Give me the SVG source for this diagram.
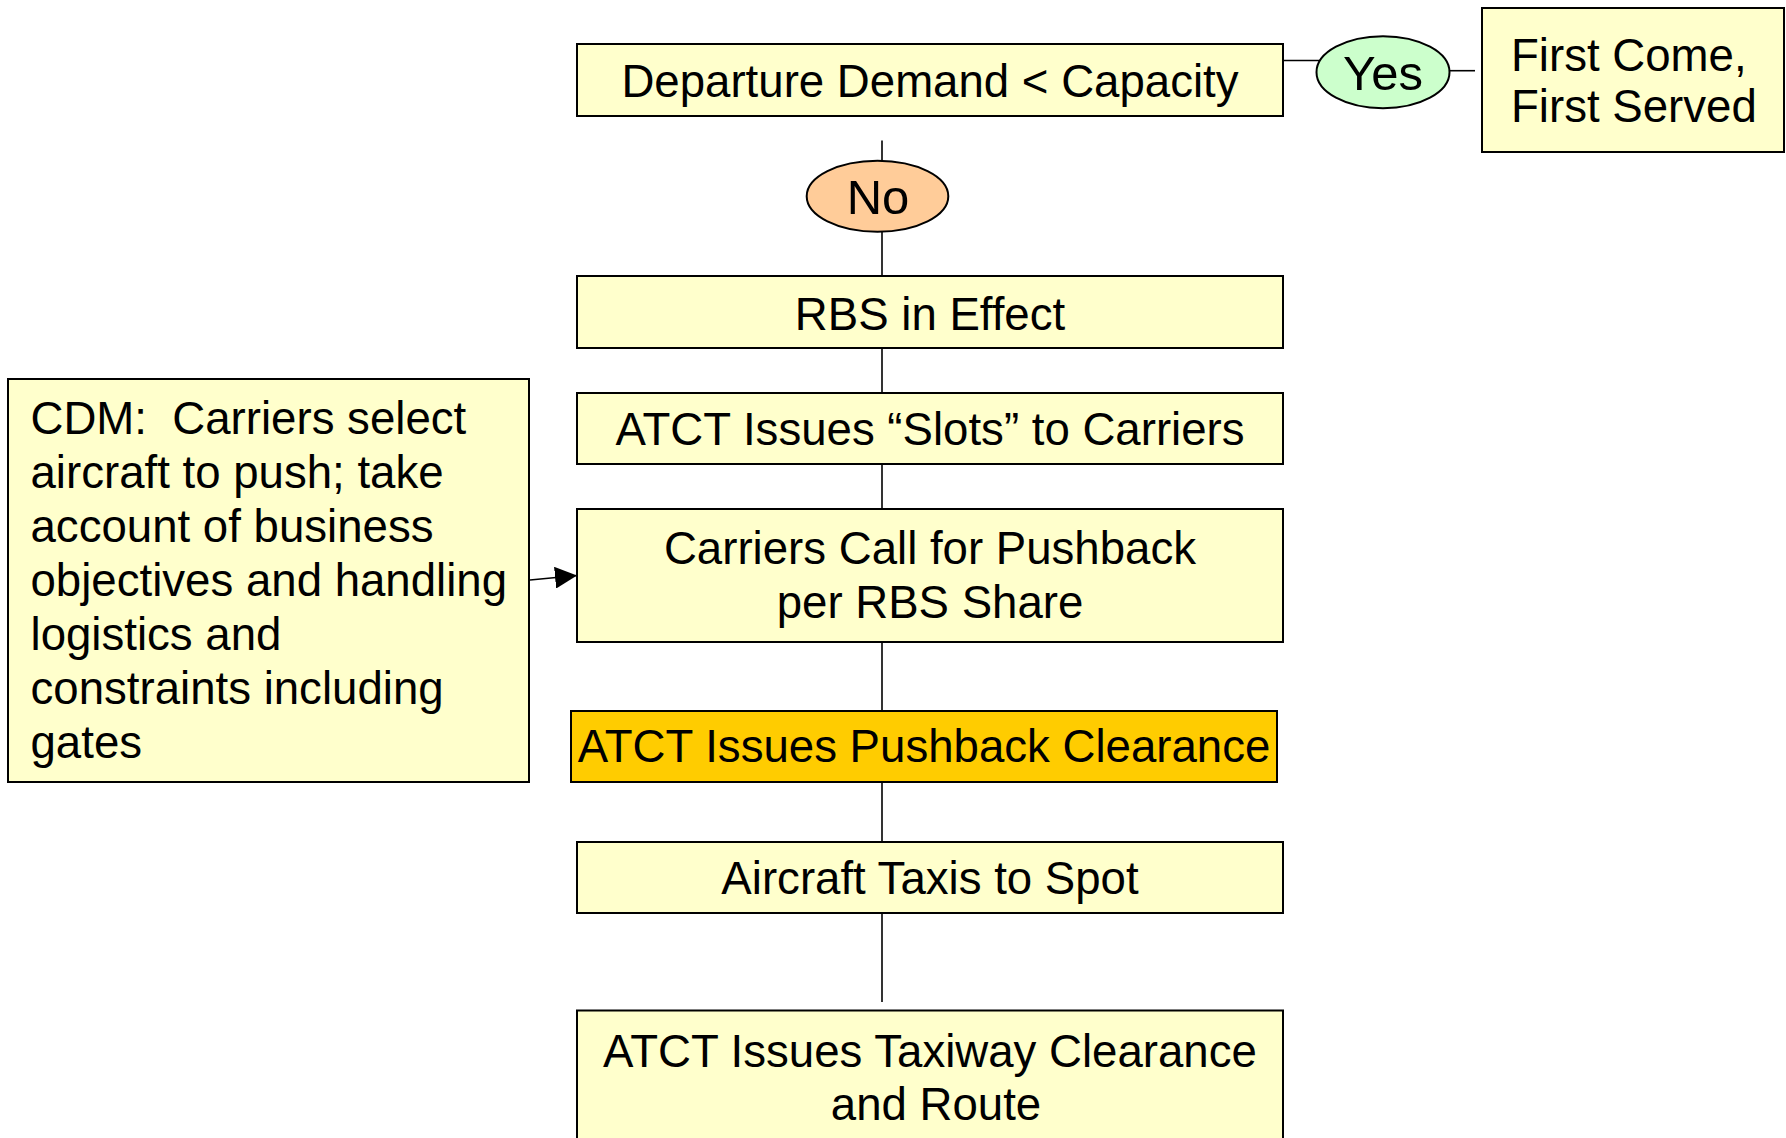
<svg xmlns="http://www.w3.org/2000/svg" width="1786" height="1138" viewBox="0 0 1786 1138">
  <style>
    .box { fill: #FFFFCC; stroke: #000; stroke-width: 2; }
    .hot { fill: #FFCC00; stroke: #000; stroke-width: 2; }
    .yes { fill: #CCFFCC; stroke: #000; stroke-width: 2; }
    .no  { fill: #FFCC99; stroke: #000; stroke-width: 2; }
    .lbl { font-family: "Liberation Sans", Arial, sans-serif; font-size: 45.6px; fill: #000; }
    .mid { text-anchor: middle; }
    .big { font-size: 49px; }
    .wire { stroke: #000; stroke-width: 1.6; fill: none; }
  </style>
  <defs>
    <marker id="tip" markerUnits="userSpaceOnUse" markerWidth="22" markerHeight="22" viewBox="0 0 20 20" refX="20" refY="10" orient="auto">
      <path d="M0,0 L20,10 L0,20 Z" fill="#000"/>
    </marker>
  </defs>

  <!-- connectors -->
  <g id="connectors">
    <line class="wire" x1="1283" y1="60.5" x2="1320" y2="60.5"/>
    <line class="wire" x1="1449.5" y1="70.7" x2="1475" y2="70.7"/>
    <line class="wire" x1="882" y1="140.5" x2="882" y2="161"/>
    <line class="wire" x1="882" y1="231.5" x2="882" y2="276"/>
    <line class="wire" x1="882" y1="348" x2="882" y2="393"/>
    <line class="wire" x1="882" y1="464" x2="882" y2="509"/>
    <line class="wire" x1="882" y1="642" x2="882" y2="711"/>
    <line class="wire" x1="882" y1="782" x2="882" y2="842"/>
    <line class="wire" x1="882" y1="913" x2="882" y2="1002"/>
    <line class="wire" x1="530" y1="580" x2="577" y2="575.5" marker-end="url(#tip)"/>
  </g>

  <g id="demand">
    <rect class="box" x="577" y="44" width="706" height="72"/>
    <text class="lbl mid" x="930" y="97">Departure Demand &lt; Capacity</text>
  </g>

  <g id="yes">
    <ellipse class="yes" cx="1383" cy="72.2" rx="66.5" ry="36"/>
    <text class="lbl mid big" x="1383" y="90">Yes</text>
  </g>

  <g id="fcfs">
    <rect class="box" x="1482" y="8" width="302" height="144"/>
    <text class="lbl" x="1511" y="71">First Come,</text>
    <text class="lbl" x="1511" y="122">First Served</text>
  </g>

  <g id="no">
    <ellipse class="no" cx="877.5" cy="196.2" rx="70.8" ry="35.5"/>
    <text class="lbl mid big" x="878" y="214">No</text>
  </g>

  <g id="rbs">
    <rect class="box" x="577" y="276" width="706" height="72"/>
    <text class="lbl mid" x="930" y="329.5">RBS in Effect</text>
  </g>

  <g id="slots">
    <rect class="box" x="577" y="393" width="706" height="71"/>
    <text class="lbl mid" x="930" y="445">ATCT Issues “Slots” to Carriers</text>
  </g>

  <g id="carriers-call">
    <rect class="box" x="577" y="509" width="706" height="133"/>
    <text class="lbl mid" x="930" y="564">Carriers Call for Pushback</text>
    <text class="lbl mid" x="930" y="618">per RBS Share</text>
  </g>

  <g id="cdm">
    <rect class="box" x="8" y="379" width="521" height="403"/>
    <text class="lbl" x="30.5" y="434" xml:space="preserve">CDM:  Carriers select</text>
    <text class="lbl" x="30.5" y="488">aircraft to push; take</text>
    <text class="lbl" x="30.5" y="542">account of business</text>
    <text class="lbl" x="30.5" y="596">objectives and handling</text>
    <text class="lbl" x="30.5" y="650">logistics and</text>
    <text class="lbl" x="30.5" y="704">constraints including</text>
    <text class="lbl" x="30.5" y="758">gates</text>
  </g>

  <g id="pushback">
    <rect class="hot" x="571" y="711" width="706" height="71"/>
    <text class="lbl mid" x="924" y="762">ATCT Issues Pushback Clearance</text>
  </g>

  <g id="taxi-spot">
    <rect class="box" x="577" y="842" width="706" height="71"/>
    <text class="lbl mid" x="930" y="893.5">Aircraft Taxis to Spot</text>
  </g>

  <g id="taxiway">
    <rect class="box" x="577" y="1010.5" width="706" height="140"/>
    <text class="lbl mid" x="930" y="1067">ATCT Issues Taxiway Clearance</text>
    <text class="lbl mid" x="936" y="1120">and Route</text>
  </g>
</svg>
